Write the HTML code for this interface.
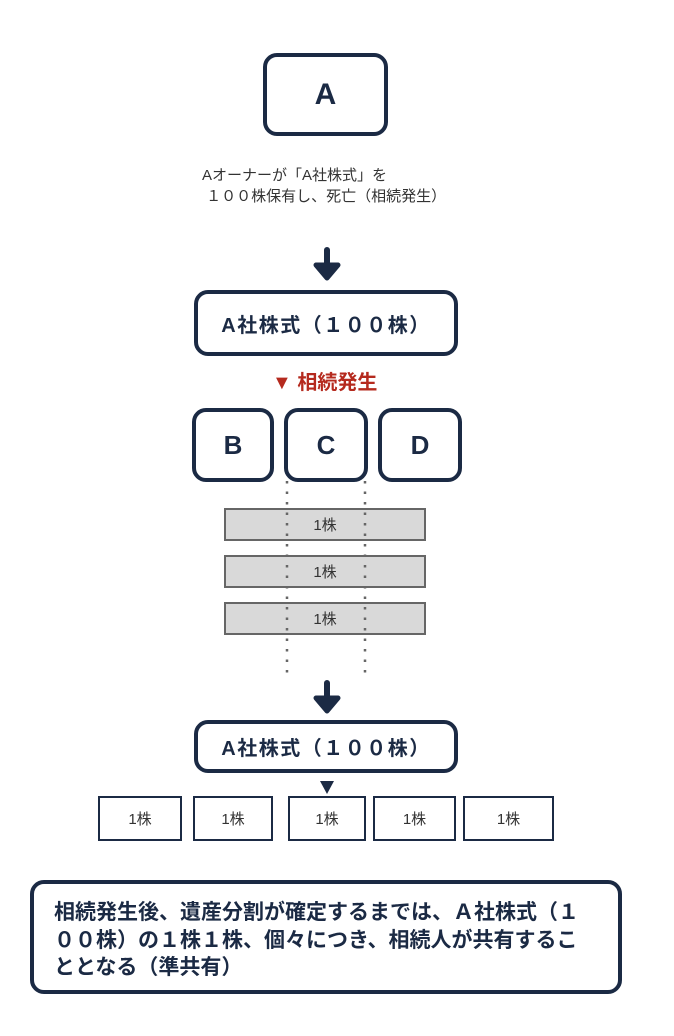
<!DOCTYPE html>
<html><head><meta charset="utf-8"><style>
body{margin:0;width:674px;height:1036px;background:#fff;position:relative;font-family:"Liberation Sans","Noto Sans CJK JP",sans-serif;color:#1b2a44;overflow:hidden}
.b{position:absolute;box-sizing:border-box;border:4px solid #1b2a44;border-radius:14px;display:flex;align-items:center;justify-content:center;font-weight:bold}
.g{position:absolute;box-sizing:border-box;border:2px solid #666;background:#d9d9d9;left:224px;width:202px;height:33px;display:flex;align-items:center;justify-content:center;font-size:15px;color:#333}
.s{position:absolute;box-sizing:border-box;border:2px solid #1b2a44;top:796px;height:45px;display:flex;align-items:center;justify-content:center;font-size:15px;color:#333;background:#fff}
.t{position:absolute;white-space:nowrap}
</style></head><body>
<div class="b" style="left:263px;top:53px;width:125px;height:83px;font-size:30px">A</div>
<div class="t" style="left:202px;top:165px;font-size:15px;line-height:21px;color:#333">Aオーナーが「A社株式」を<br>&nbsp;１００株保有し、死亡（相続発生）</div>
<div class="b" style="left:194px;top:290px;width:264px;height:66px;font-size:20px;letter-spacing:1.5px">A社株式（１００株）</div>
<div class="t" style="left:272px;top:366px;font-size:20px;font-weight:bold;color:#b52a1e">▼ 相続発生</div>
<div class="b" style="left:192px;top:408px;width:82px;height:74px;font-size:26px;background:#fff">B</div>
<div class="b" style="left:284px;top:408px;width:84px;height:74px;font-size:26px;background:#fff">C</div>
<div class="b" style="left:378px;top:408px;width:84px;height:74px;font-size:26px;background:#fff">D</div>
<div class="g" style="top:508px">1株</div>
<div class="g" style="top:555px">1株</div>
<div class="g" style="top:602px">1株</div>
<div class="b" style="left:194px;top:720px;width:264px;height:53px;font-size:20px;letter-spacing:1.5px">A社株式（１００株）</div>
<div class="s" style="left:98px;width:84px">1株</div>
<div class="s" style="left:193px;width:80px">1株</div>
<div class="s" style="left:288px;width:78px">1株</div>
<div class="s" style="left:373px;width:83px">1株</div>
<div class="s" style="left:463px;width:91px">1株</div>
<svg style="position:absolute;left:0;top:0" width="674" height="1036">
<g fill="#1b2a44" stroke="#1b2a44" stroke-linecap="round" stroke-linejoin="round">
<line x1="327" y1="250" x2="327" y2="272" stroke-width="6"/>
<polygon points="316,265 338,265 327,278" stroke-width="5"/>
<line x1="327" y1="683" x2="327" y2="705" stroke-width="6"/>
<polygon points="316,698 338,698 327,711" stroke-width="5"/>
</g>
<line x1="287" y1="481" x2="287" y2="674" stroke="#666" stroke-width="2.5" stroke-dasharray="2.5 8"/>
<line x1="365" y1="481" x2="365" y2="674" stroke="#666" stroke-width="2.5" stroke-dasharray="2.5 8"/>
<polygon points="320,781 334,781 327,794" fill="#1b2a44"/>
</svg>
<div class="b" style="left:30px;top:880px;width:592px;height:114px;display:block;font-size:21px;line-height:27.5px;padding:15px 0 0 20px;font-weight:bold">相続発生後、遺産分割が確定するまでは、Ａ社株式（１<br>００株）の１株１株、個々につき、相続人が共有するこ<br>ととなる（準共有）</div>
</body></html>
